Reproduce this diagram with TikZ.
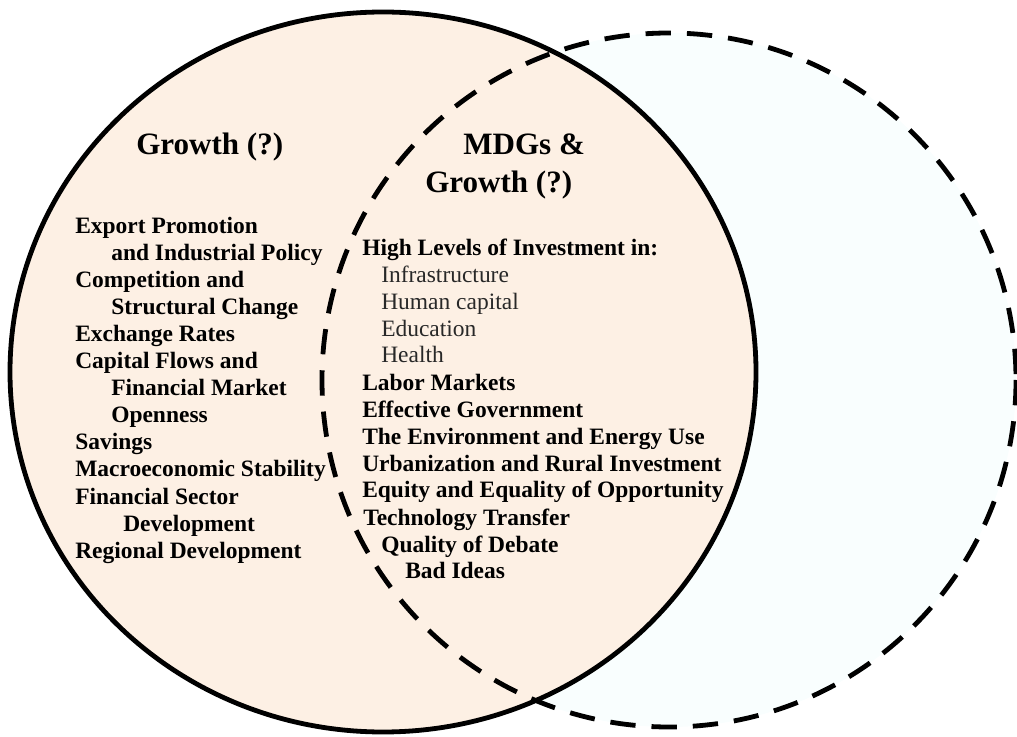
\documentclass[tikz,border=0pt]{standalone}
\usepackage{fontspec}
\setmainfont{Liberation Serif}
\definecolor{peach}{RGB}{253,240,228}
\definecolor{paleblue}{RGB}{249,254,254}
\definecolor{softblack}{RGB}{40,40,40}
\begin{document}
\begin{tikzpicture}[x=0.75pt,y=-0.75pt,
  ttl/.style={font=\fontsize{23.3}{28}\selectfont\bfseries, anchor=base west, inner sep=0pt},
  itm/.style={font=\fontsize{17.6}{20}\selectfont\bfseries, anchor=base west, inner sep=0pt},
  sub/.style={font=\fontsize{17.6}{20}\selectfont, text=softblack, anchor=base west, inner sep=0pt},
  solidring/.style={draw=black, line width=3.6pt, fill=peach},
  dashring/.style={draw=black, line width=3.6pt, dash pattern=on 19pt off 12pt}]
\useasboundingbox (0,0) rectangle (1017,737);
% circles
\fill[paleblue] (669,380) circle [radius=347];
\path[solidring] (383,372) ellipse [x radius=373, y radius=360];
\draw[dashring] (669,380) circle [radius=347];
% titles
\node[ttl] (tg) at (136,155) {Growth (?)};
\node[ttl] (tm1) at (463,155) {MDGs \&};
\node[ttl] (tm2) at (425,193) {Growth (?)};
% left list
\node[itm] (l1) at (75,234) {Export Promotion};
\node[itm] (l2) at (111,261) {and Industrial Policy};
\node[itm] (l3) at (75,288) {Competition and};
\node[itm] (l4) at (111,315) {Structural Change};
\node[itm] (l5) at (75,342) {Exchange Rates};
\node[itm] (l6) at (75,369) {Capital Flows and};
\node[itm] (l7) at (111,396) {Financial Market};
\node[itm] (l8) at (111,423) {Openness};
\node[itm] (l9) at (75,450) {Savings};
\node[itm] (l10) at (75,477) {Macroeconomic Stability};
\node[itm] (l11) at (75,504) {Financial Sector};
\node[itm] (l12) at (123,531) {Development};
\node[itm] (l13) at (75,558) {Regional Development};
% right list
\node[itm] (r1) at (362,256) {High Levels of Investment in:};
\node[sub] (r2) at (381,283) {Infrastructure};
\node[sub] (r3) at (381,310) {Human capital};
\node[sub] (r4) at (381,337) {Education};
\node[sub] (r5) at (381,363) {Health};
\node[itm] (r6) at (362,391) {Labor Markets};
\node[itm] (r7) at (362,418) {Effective Government};
\node[itm] (r8) at (362,445) {The Environment and Energy Use};
\node[itm] (r9) at (362,472) {Urbanization and Rural Investment};
\node[itm] (r10) at (362,498) {Equity and Equality of Opportunity};
\node[itm] (r11) at (363,525) {Technology Transfer};
\node[itm] (r12) at (381,552) {Quality of Debate};
\node[itm] (r13) at (405,578) {Bad Ideas};
\end{tikzpicture}
\end{document}
